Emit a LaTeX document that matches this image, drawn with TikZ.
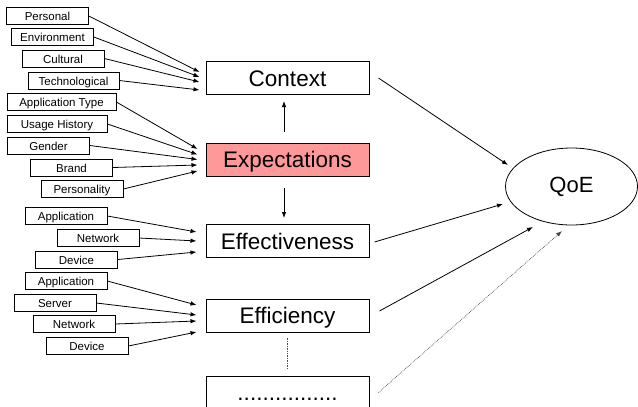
\documentclass[tikz,border=0pt]{standalone}
\usepackage{fontspec}
\setmainfont{Liberation Sans}
\usetikzlibrary{arrows.meta,shapes.geometric}
\definecolor{expfill}{RGB}{255,153,153}
\tikzset{
  >={Latex[length=6pt,width=4.5pt]},
  tag/.style={draw=black, line width=0.7pt, minimum width=82pt, minimum height=17pt,
    inner sep=0pt, text height=9.4pt, text depth=0pt, font=\fontsize{11.5}{13}\selectfont},
  block/.style={draw=black, line width=1pt, minimum width=163pt, minimum height=33pt,
    inner sep=0pt, text height=16pt, text depth=0pt, font=\fontsize{22.5}{26}\selectfont},
  feed/.style={draw=black, line width=0.8pt, ->},
  faint/.style={draw=black!70, line width=0.7pt, densely dotted},
}
\begin{document}
\begin{tikzpicture}[x=1pt,y=-1pt]
\def\MX{287.5}
\useasboundingbox (0,0) rectangle (638,407);
\clip (0,0) rectangle (638,407);
% main blocks
\node[block] (context) at (\MX,78) {Context};
\node[block, fill=expfill] (expect) at (\MX,159.5) {Expectations};
\node[block] (effect) at (\MX,241) {Effectiveness};
\node[block] (effic) at (\MX,315.5) {Efficiency};
\node[block] (more) at (\MX,392.5) {................};
\node[ellipse, draw=black, line width=0.8pt, minimum width=132pt, minimum height=77pt,
  inner sep=0pt, text height=11pt, text depth=0pt, font=\fontsize{22}{26}\selectfont] (qoe) at (571.5,186.5) {QoE};
% context factors
\node[tag] (personal) at (47.5,16) {Personal};
\node[tag] (environment) at (52.5,37) {Environment};
\node[tag] (cultural) at (63,58.5) {Cultural};
\node[tag, minimum width=91pt] (technological) at (73.5,80.5) {Technological};
% expectation factors
\node[tag, minimum width=109pt] (apptype) at (61.5,102) {Application Type};
\node[tag, minimum width=100pt] (usage) at (57,124) {Usage History};
\node[tag] (gender) at (48.5,145.5) {Gender};
\node[tag] (brand) at (71.5,167.5) {Brand};
\node[tag] (personality) at (82,189) {Personality};
% effectiveness factors
\node[tag] (effapp) at (66,216) {Application};
\node[tag] (effnet) at (98,238) {Network};
\node[tag] (effdev) at (76.5,259.5) {Device};
% efficiency factors
\node[tag] (ficapp) at (66,281) {Application};
\node[tag] (ficserver) at (55,303) {Server};
\node[tag] (ficnet) at (74,324) {Network};
\node[tag] (ficdev) at (87,346) {Device};
% factor arrows
\draw[feed] (personal.east) -- ([shift={(-6,-6)}]context.west);
\draw[feed] (environment.east) -- ([shift={(-6,-1)}]context.west);
\draw[feed] (cultural.east) -- ([shift={(-6,4)}]context.west);
\draw[feed] (technological.east) -- ([shift={(-6,12)}]context.west);
\draw[feed] (apptype.east) -- ([shift={(-8,-10.5)}]expect.west);
\draw[feed] (usage.east) -- ([shift={(-8,-5)}]expect.west);
\draw[feed] (gender.east) -- ([shift={(-8,0)}]expect.west);
\draw[feed] (brand.east) -- ([shift={(-8,5.5)}]expect.west);
\draw[feed] (personality.east) -- ([shift={(-8,11.5)}]expect.west);
\draw[feed] (effapp.east) -- ([shift={(-9,-9)}]effect.west);
\draw[feed] (effnet.east) -- ([shift={(-9,0)}]effect.west);
\draw[feed] (effdev.east) -- ([shift={(-9,11)}]effect.west);
\draw[feed] (ficapp.east) -- ([shift={(-9,-10.5)}]effic.west);
\draw[feed] (ficserver.east) -- ([shift={(-9,-0.5)}]effic.west);
\draw[feed] (ficnet.east) -- ([shift={(-9,5.5)}]effic.west);
\draw[feed] (ficdev.east) -- ([shift={(-9,16.5)}]effic.west);
% between blocks
\draw[feed, shorten <=11pt, shorten >=6pt] ([xshift=-3.5pt]expect.north) -- ([xshift=-3.5pt]context.south);
\draw[feed, shorten <=11pt, shorten >=6pt] ([xshift=-3.5pt]expect.south) -- ([xshift=-3.5pt]effect.north);
\draw[faint, shorten <=5pt, shorten >=6pt] (effic.south) -- (more.north);
% into QoE
\draw[feed] ([xshift=9pt]context.east) -- ([shift={(-63.5,-21.5)}]qoe.center);
\draw[feed] ([shift={(5,1)}]effect.east) -- ([shift={(-68.5,17.5)}]qoe.center);
\draw[feed] ([shift={(10,-4.5)}]effic.east) -- ([shift={(-38.5,40.5)}]qoe.center);
\draw[faint, -{Latex[length=6pt,width=4.5pt]}] ([xshift=9pt]more.east) -- ([shift={(-9.5,44.5)}]qoe.center);
\end{tikzpicture}
\end{document}
